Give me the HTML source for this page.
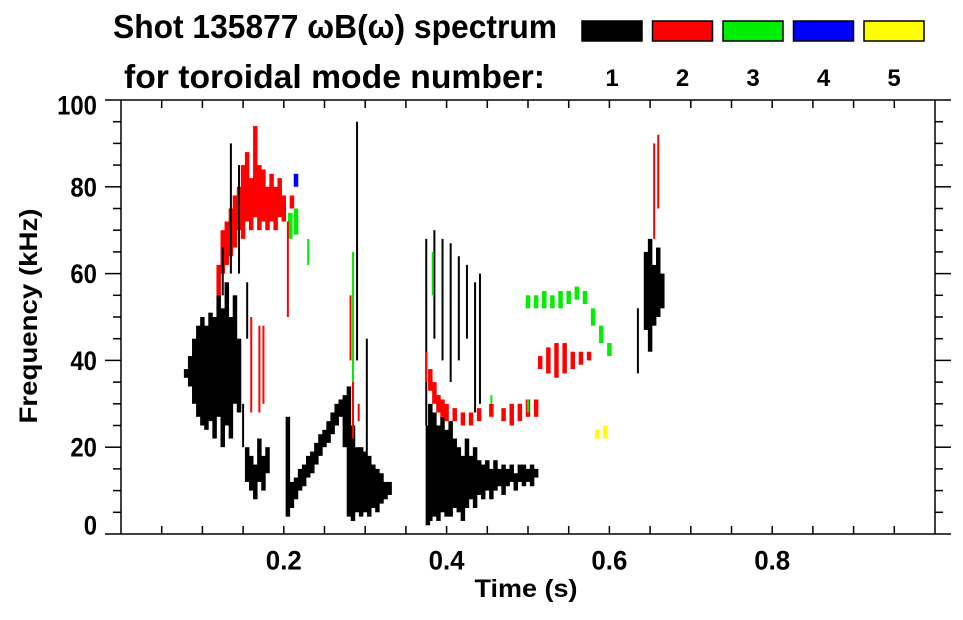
<!DOCTYPE html>
<html><head><meta charset="utf-8">
<style>
body{margin:0;background:#fff;}
svg text{font-family:"Liberation Sans",sans-serif;font-weight:bold;fill:#000;}
</style></head>
<body>
<svg id="chart" width="963" height="615" viewBox="0 0 963 615" xmlns="http://www.w3.org/2000/svg">
<g>
<text x="113" y="38" font-size="33" textLength="444" lengthAdjust="spacingAndGlyphs">Shot 135877 ωB(ω) spectrum</text>
<text x="124" y="88" font-size="33" textLength="421" lengthAdjust="spacingAndGlyphs">for toroidal mode number:</text>
</g>
<g id="legend"></g>
<g id="marks"></g>
<g id="axes"></g>
<text x="37" y="316" font-size="25" text-anchor="middle" textLength="215" lengthAdjust="spacingAndGlyphs" transform="rotate(-90 37 316)">Frequency (kHz)</text>
<text x="526" y="597" font-size="25" text-anchor="middle" textLength="103" lengthAdjust="spacingAndGlyphs">Time (s)</text>
</svg>
<script>
const modeColors = ["#000000","#ff0000","#00ee00","#0000ff","#ffff00"];
const modeLabels = ["1","2","3","4","5"];
const xTicks = [0.2,0.4,0.6,0.8];
const xTickLabels = ["0.2","0.4","0.6","0.8"];
const yTicks = [0,20,40,60,80,100];
const yTickLabels = ["0","20","40","60","80","100"];
// dense spectral slices: time (s), low/high freq (kHz), mode index
const denseT = [.080,.085,.090,.095,.100,.105,.110,.115,.120,.125,.130,.135,.140,.145,
 .155,.160,.165,.170,.175,.180,
 .205,.210,.215,.220,.225,.230,.235,.240,.245,.250,.255,.260,.265,.270,
 .275,.280,.285,.290,.295,.300,.305,.310,.315,.320,.325,.330,
 .377,.380,.385,.390,.395,.400,.405,.410,.415,.420,.425,.430,.435,.440,.445,.450,.455,.460,.465,.470,.475,.480,.485,.490,.495,.500,.505,.510,
 .645,.650,.655,.660,.665,
 .120,.125,.130,.135,.140,.145,.150,.155,.160,.165,.170,.175,.180,.185,.190,.195,.200,.210,
 .380,.385,.390,.395,.400,.410,.420,.430,.440,.455,.470,.480,.490,.500,.510,
 .515,.525,.535,.545,.555,.565,.575,
 .208,.215,
 .500,.510,.520,.530,.540,.550,.560,.570,.580,.590,.600,
 .215,
 .585,.595];
const denseLo = [36,34,30,27,25,24,26,22,27,20,25,22,30,28,
 12,10,8,12,10,14,
 4,6,8,10,11,13,14,16,18,20,21,23,25,27,
 20,4,3,5,4,5,4,6,5,7,8,9,
 2,3,4,3,5,4,4,6,5,3,6,8,6,9,8,10,8,10,11,9,11,12,10,12,11,12,11,13,
 47,42,48,50,52,
 55,60,62,64,66,70,68,72,70,73,70,72,70,72,70,73,72,75,
 33,30,28,27,26,26,25,25,26,27,26,25,26,27,27,
 38,37,36,37,38,39,40,
 68,69,
 52,52,52,52,52,53,54,53,48,44,41,
 80,
 22,22];
const denseHi = [38,41,45,48,50,48,51,50,55,52,58,50,55,45,
 20,18,16,22,18,20,
 27,12,13,15,16,18,19,21,23,24,26,28,30,31,
 32,34,25,20,20,19,18,16,15,14,12,12,
 25,30,28,25,27,24,26,22,20,18,22,18,20,17,16,17,15,17,15,16,15,16,14,16,16,15,16,15,
 65,68,62,66,60,
 62,70,72,75,78,80,85,88,82,94,85,84,80,83,80,82,78,78,
 38,35,32,31,30,29,28,28,29,30,29,30,30,31,31,
 41,43,44,44,42,42,42,
 74,75,
 55,55,56,55,56,56,57,56,52,48,44,
 83,
 24,25];
const denseMode = [0,0,0,0,0,0,0,0,0,0,0,0,0,0,
 0,0,0,0,0,0,
 0,0,0,0,0,0,0,0,0,0,0,0,0,0,
 0,0,0,0,0,0,0,0,0,0,0,0,
 0,0,0,0,0,0,0,0,0,0,0,0,0,0,0,0,0,0,0,0,0,0,0,0,0,0,0,0,
 0,0,0,0,0,
 1,1,1,1,1,1,1,1,1,1,1,1,1,1,1,1,1,1,
 1,1,1,1,1,1,1,1,1,1,1,1,1,1,1,
 1,1,1,1,1,1,1,
 2,2,
 2,2,2,2,2,2,2,2,2,2,2,
 3,
 4,4];
// thin streaks
const streakT = [.125,.135,.145,.155,.150,.290,.302,.375,.385,.395,.405,.415,.425,.435,.441,.635,
 .160,.170,.175,.205,.375,.285,.292,.655,.660,.282,
 .285,.383,.455,.500,.230];
const streakLo = [55,60,60,45,20,40,15,25,45,40,35,40,45,28,30,37,
 28,28,30,50,35,22,26,68,75,40,
 35,55,30,28,62];
const streakHi = [66,90,85,58,30,95,45,68,70,68,67,64,62,58,60,52,
 50,48,48,72,42,36,30,90,92,55,
 65,65,32,31,68];
const streakMode = [0,0,0,0,0,0,0,0,0,0,0,0,0,0,0,0,
 1,1,1,1,1,1,1,1,1,1,
 2,2,2,2,2];

const X0=121, X1=935, Y0=534, Y1=100;
const xScale = t => X0 + (X1-X0)*t;
const yScale = f => Y0 - (Y0-Y1)*f/100;
const NS="http://www.w3.org/2000/svg";
function mk(tag, attrs){const e=document.createElementNS(NS,tag);for(const k in attrs)e.setAttribute(k,attrs[k]);return e;}

const marks=document.getElementById('marks');
for(let i=0;i<denseT.length;i++){
  const x=xScale(denseT[i]), w=xScale(0.0055)-X0;
  const r=mk('rect',{x:x-w/2,y:yScale(denseHi[i]),width:w,height:yScale(denseLo[i])-yScale(denseHi[i]),fill:modeColors[denseMode[i]]});
  
  
  marks.appendChild(r);
}
for(let i=0;i<streakT.length;i++){
  const x=xScale(streakT[i]);
  const r=mk('rect',{x:x-1,y:yScale(streakHi[i]),width:2,height:yScale(streakLo[i])-yScale(streakHi[i]),fill:modeColors[streakMode[i]]});
  
  
  marks.appendChild(r);
}

const axes=document.getElementById('axes');
function line(x1,y1,x2,y2,name){const l=mk('line',{x1,y1,x2,y2,stroke:'#000','stroke-width':1.5});
 
 
 axes.appendChild(l);}
line(105,Y1,951,Y1,'top-axis');
line(105,Y0,951,Y0,'bottom-axis');
line(X0,Y1,X0,Y0,'left-axis');
line(X1,Y1,X1,Y0,'right-axis');
for(let f=5;f<100;f+=5){
  const y=yScale(f), major=f%20===0;
  line(major?105:113,y,X0,y,'y-tick');
  line(X1,y,major?951:943,y,'y-tick-right');
}
for(let t=0.05;t<0.99;t+=0.05){
  const x=xScale(t);
  line(x,Y0,x,Y0-8,'x-tick');
  line(x,Y1,x,Y1+8,'x-tick-top');
}
for(let i=0;i<yTicks.length;i++){
  let cy=yScale(yTicks[i]);
  if(i===0) cy=525;
  if(i===yTicks.length-1) cy=105;
  const w=yTickLabels[i].length*13.3;
  const tx=mk('text',{x:97,y:cy+9.5,'font-size':27,'text-anchor':'end',textLength:w,lengthAdjust:'spacingAndGlyphs'});
  tx.textContent=yTickLabels[i];
  
  
  axes.appendChild(tx);
}
for(let i=0;i<xTicks.length;i++){
  const tx=mk('text',{x:xScale(xTicks[i]),y:569.5,'font-size':27,'text-anchor':'middle',textLength:36,lengthAdjust:'spacingAndGlyphs'});
  tx.textContent=xTickLabels[i];
  
  
  axes.appendChild(tx);
}
const legend=document.getElementById('legend');
for(let i=0;i<modeColors.length;i++){
  const x=582+70.5*i;
  const r=mk('rect',{x:x,y:21,width:60,height:20,fill:modeColors[i],stroke:'#000','stroke-width':1.5});
  
  
  legend.appendChild(r);
  const tx=mk('text',{x:x+30,y:86,'font-size':24,'text-anchor':'middle'});
  tx.textContent=modeLabels[i];
  
  
  legend.appendChild(tx);
}
</script>
</body></html>
